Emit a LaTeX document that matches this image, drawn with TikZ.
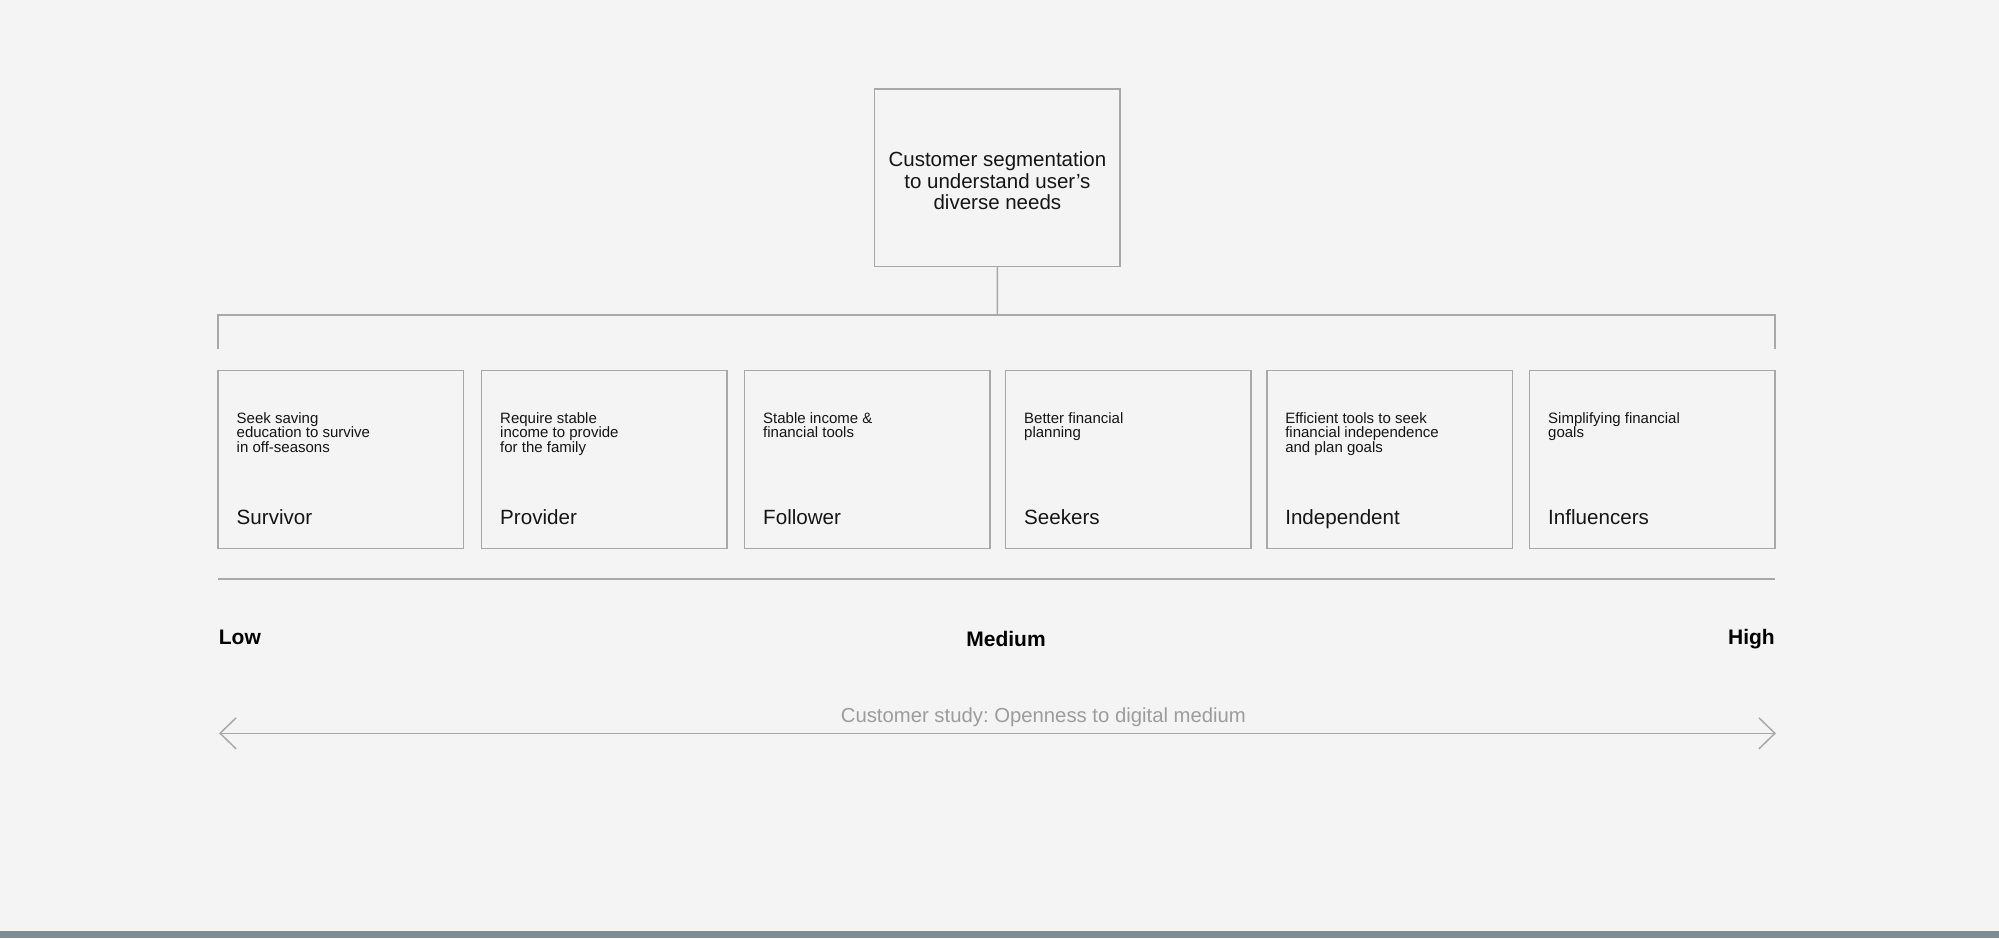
\documentclass[tikz,border=0pt]{standalone}
\usepackage{fontspec}
\setmainfont{Liberation Sans}
\usetikzlibrary{arrows.meta}
\definecolor{bg}{HTML}{F4F4F4}
\definecolor{edge}{HTML}{A8A8A8}
\definecolor{capgray}{HTML}{9C9C9C}
\definecolor{barcol}{HTML}{7E8B92}
\definecolor{ink}{HTML}{151515}
\frenchspacing
\begin{document}
\begin{tikzpicture}[x=1pt,y=-1pt,
  segbox/.style={draw=edge, line width=1.5pt, minimum width=245.5pt, minimum height=177.6pt, anchor=north west, inner sep=0pt, outer sep=0pt},
  desc/.style={anchor=base west, inner sep=0pt, text=ink, font=\fontsize{15}{14.6}\selectfont},
  ttl/.style={anchor=base west, inner sep=0pt, text=ink, font=\fontsize{20.6}{24}\selectfont},
  lvl/.style={inner sep=0pt, text=black, font=\fontsize{21}{24}\selectfont\bfseries},
  conn/.style={draw=edge, line width=1.5pt},
  barb/.style={{Straight Barb[length=16pt,width=31pt]}-{Straight Barb[length=16pt,width=31pt]}}
]
\useasboundingbox (0,0) rectangle (1999,938);
\fill[bg] (0,0) rectangle (1999,938);
\fill[barcol] (0,931) rectangle (1999,938);

% top box
\node[segbox] (top) at (874.7,89) {};
\node[anchor=base, inner sep=0pt, text=ink, font=\fontsize{20.5}{21.3}\selectfont] (toptext) at (997.4,166.7)
  {\parbox[t]{240pt}{\centering Customer segmentation\\to understand user’s\\diverse needs}};

% bracket
\coordinate (bl) at (218.2,349.3);
\coordinate (br) at (1775.2,349.3);
\coordinate (bm) at (997.4,315);
\draw[conn] (top.south) -- (bm);
\draw[conn] (bl) |- (bm) -| (br);

% segment boxes
\foreach \x/\name/\title/\txt in {
  218.2/s1/Survivor/{Seek saving\\education to survive\\in off-seasons},
  481.7/s2/Provider/{Require stable\\income to provide\\for the family},
  744.7/s3/Follower/{Stable income \&\\financial tools},
  1005.7/s4/Seekers/{Better financial\\planning},
  1266.8/s5/Independent/{Efficient tools to seek\\financial independence\\and plan goals},
  1529.7/s6/Influencers/{Simplifying financial\\goals}} {
  \node[segbox] (\name) at (\x,370.7) {};
  \node[desc] (\name d) at ([xshift=18.3pt,yshift=-52.6pt]\name.north west)
    {\parbox[t]{220pt}{\raggedright\txt}};
  \node[ttl] (\name t) at ([xshift=18.3pt,yshift=-153.6pt]\name.north west) {\title};
}

% scale line
\coordinate (ll) at (218.2,579);
\coordinate (lr) at (1775.2,579);
\draw[conn] (ll) -- (lr);

\node[lvl, anchor=base west] (low) at (218.7,644) {Low};
\node[lvl, anchor=base] (med) at (1006,646.7) {Medium};
\node[lvl, anchor=base east] (high) at (1775,644) {High};

% arrow
\coordinate (aL) at (219,733.3);
\coordinate (aR) at (1776,733.3);
\draw[conn, barb] (aL) -- (aR);
\node[anchor=base, inner sep=0pt, text=capgray, font=\fontsize{20.3}{24}\selectfont] (cap) at (1043.4,722.3)
  {Customer study: Openness to digital medium};
\end{tikzpicture}
\end{document}
